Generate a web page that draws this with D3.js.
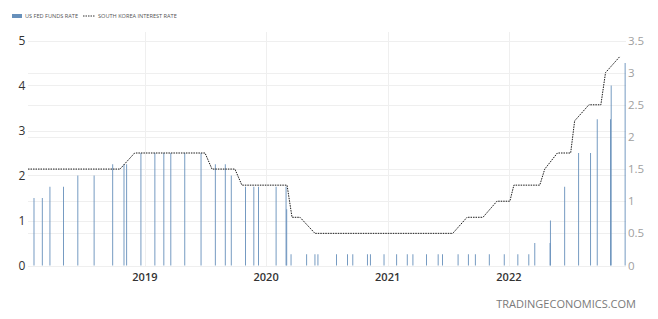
<!DOCTYPE html>
<html>
<head>
<meta charset="utf-8">
<script src="https://cdn.jsdelivr.net/npm/d3@7"></script>
<style>
  body { margin: 0; background: #fff; }
  text { font-family: "Open Sans", sans-serif; }
</style>
</head>
<body>
<div id="chart"></div>
<script>
// US fed funds rate (upper bound), one bar per reading
const fedDates = ["2018-02-01","2018-02-26","2018-03-21","2018-05-01","2018-06-13","2018-08-01","2018-09-26","2018-10-30","2018-11-07","2018-12-20",
  "2019-01-31","2019-02-27","2019-03-20","2019-05-01","2019-06-19","2019-08-01","2019-08-31","2019-09-18","2019-10-31","2019-11-25","2019-12-09",
  "2020-01-31","2020-03-01","2020-03-03","2020-03-16","2020-05-02","2020-05-27","2020-06-05","2020-07-31","2020-09-02","2020-09-18","2020-11-01","2020-11-10","2020-12-21",
  "2021-01-28","2021-03-01","2021-03-18","2021-04-28","2021-06-02","2021-06-15","2021-08-01","2021-09-01","2021-09-22","2021-11-03","2021-12-18",
  "2022-01-28","2022-03-02","2022-03-20","2022-05-06","2022-05-05","2022-06-18","2022-07-30","2022-09-04","2022-09-24","2022-11-05","2022-11-03","2022-12-17"];
const fedRates = [1.5,1.5,1.75,1.75,2,2,2.25,2.25,2.25,2.5,
  2.5,2.5,2.5,2.5,2.5,2.25,2.25,2,1.75,1.75,1.75,
  1.75,1.75,1.25,0.25,0.25,0.25,0.25,0.25,0.25,0.25,0.25,0.25,0.25,
  0.25,0.25,0.25,0.25,0.25,0.25,0.25,0.25,0.25,0.25,0.25,
  0.25,0.25,0.5,1,0.5,1.75,2.5,2.5,3.25,4,3.25,4.5];

// Bank of Korea base rate
const koreaDates = ["2018-01-14","2018-10-18","2018-12-01","2019-07-01","2019-07-22","2019-09-29","2019-10-20",
  "2020-03-04","2020-03-19","2020-04-12","2020-05-27","2021-07-16","2021-08-28","2021-10-15","2021-11-26",
  "2022-01-04","2022-01-16","2022-04-04","2022-04-19","2022-05-27","2022-07-06","2022-07-18","2022-08-30","2022-10-05","2022-10-19","2022-12-01"];
const koreaRates = [1.5,1.5,1.75,1.75,1.5,1.5,1.25,
  1.25,0.75,0.75,0.5,0.5,0.75,0.75,1,
  1,1.25,1.25,1.5,1.75,1.75,2.25,2.5,2.5,3,3.25];

const leftTicks = [0, 1, 2, 3, 4, 5];
const rightTicks = [0, 0.5, 1, 1.5, 2, 2.5, 3, 3.5];
const yearTicks = ["2019", "2020", "2021", "2022"];
const legendLabels = ["US FED FUNDS RATE", "SOUTH KOREA INTEREST RATE"];
const sourceLabel = "TRADINGECONOMICS.COM";

class RateChart {

    constructor() {
        this.width = 658;
        this.height = 319;
        this.left = 28;
        this.right = 626;
        this.barColor = "#6790bb";
        this.parse = d3.timeParse("%Y-%m-%d");
        this.fed = fedDates.map((d, i) => ({date: this.parse(d), value: fedRates[i]}));
        this.korea = koreaDates.map((d, i) => ({date: this.parse(d), value: koreaRates[i]}));
    }

    setup() {
        this.svg = d3.select("#chart").append("svg")
            .attr("width", this.width)
            .attr("height", this.height);

        this.x = d3.scaleTime()
            .domain([new Date(2018, 0, 1), new Date(2023, 0, 1)])
            .range([23.7, 630.1]);
        this.yLeft = d3.scaleLinear().domain([0, 5]).range([265.5, 40.5]);
        this.yRight = d3.scaleLinear().domain([0, 3.5]).range([265.5, 40.5]);
    }

    drawGrid() {
        const g = this.svg.append("g").attr("stroke", "#efefef").attr("stroke-width", 1);
        const ys = leftTicks.map(t => this.yLeft(t)).concat(rightTicks.map(t => this.yRight(t)));
        g.selectAll(".hgrid").data(ys).enter().append("line")
            .attr("x1", this.left).attr("x2", this.right)
            .attr("y1", d => Math.round(d) + 0.5).attr("y2", d => Math.round(d) + 0.5);

        g.selectAll(".vgrid").data(yearTicks).enter().append("line")
            .attr("x1", d => Math.round(this.x(new Date(+d, 0, 1))) + 0.5)
            .attr("x2", d => Math.round(this.x(new Date(+d, 0, 1))) + 0.5)
            .attr("y1", 32).attr("y2", 266);
    }

    drawAxes() {
        this.svg.append("g").selectAll("text").data(leftTicks).enter().append("text")
            .attr("x", 22).attr("y", d => this.yLeft(d))
            .attr("dy", "0.36em").attr("text-anchor", "middle")
            .attr("font-size", 12).attr("fill", "#333")
            .text(d => d);

        this.svg.append("g").selectAll("text").data(rightTicks).enter().append("text")
            .attr("x", 628).attr("y", d => this.yRight(d))
            .attr("dy", "0.36em")
            .attr("font-size", 11.5).attr("fill", "#a0a0a0")
            .text(d => d);

        this.svg.append("g").selectAll("text").data(yearTicks).enter().append("text")
            .attr("x", d => this.x(new Date(+d, 0, 1))).attr("y", 281)
            .attr("text-anchor", "middle")
            .attr("font-size", 11).attr("font-weight", 600).attr("fill", "#333")
            .text(d => d);

        this.svg.append("text")
            .attr("x", 636).attr("y", 308)
            .attr("text-anchor", "end")
            .attr("font-size", 11).attr("fill", "#7a7a7a")
            .text(sourceLabel);
    }

    drawLegend() {
        const g = this.svg.append("g").attr("font-size", 5.6).attr("fill", "#555");
        g.append("rect").attr("x", 12).attr("y", 14).attr("width", 10).attr("height", 4).attr("fill", this.barColor);
        g.append("text").attr("x", 25).attr("y", 18).text(legendLabels[0]);
        g.append("line").attr("x1", 83).attr("x2", 95).attr("y1", 16).attr("y2", 16)
            .attr("stroke", "#333").attr("stroke-width", 1).attr("stroke-dasharray", "1.5,1");
        g.append("text").attr("x", 98).attr("y", 18).text(legendLabels[1]);
    }

    drawBars() {
        this.svg.append("g").selectAll(".bar")
            .data(this.fed)
            .enter().append("rect")
            .attr("class", "bar")
            .attr("x", d => this.x(d.date) - 0.45)
            .attr("width", 0.9)
            .attr("y", d => this.yLeft(d.value))
            .attr("height", d => this.yLeft(0) - this.yLeft(d.value))
            .attr("fill", this.barColor);
    }

    drawLine() {
        const line = d3.line()
            .x(d => this.x(d.date))
            .y(d => this.yRight(d.value));

        this.svg.append("path")
            .datum(this.korea)
            .attr("d", line)
            .attr("fill", "none")
            .attr("stroke", "#1a1a1a")
            .attr("stroke-width", 1)
            .attr("stroke-dasharray", "1.5,1");
    }
}

const chart = new RateChart();
chart.setup();
chart.drawGrid();
chart.drawAxes();
chart.drawLegend();
chart.drawBars();
chart.drawLine();
</script>
</body>
</html>
